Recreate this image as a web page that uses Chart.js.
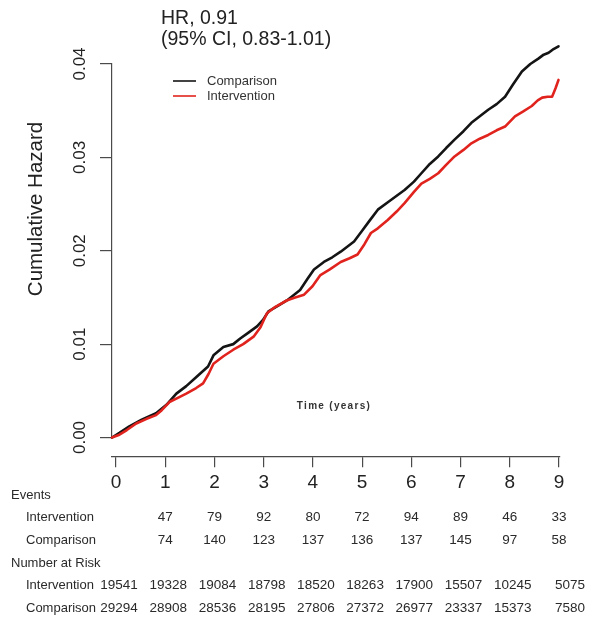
<!DOCTYPE html>
<html>
<head>
<meta charset="utf-8">
<script src="https://cdn.jsdelivr.net/npm/chart.js@4/dist/chart.umd.min.js"></script>
<style>
  html, body { margin: 0; padding: 0; background: #fff; }
  #c { display: block; }
</style>
</head>
<body>
<canvas id="c" width="595" height="617"></canvas>
<script>
// Cumulative hazard curves, follow-up in years
const compTime = [0, 0.15, 0.35, 0.6, 0.89, 1.1, 1.3, 1.5, 1.71, 1.94, 2.05, 2.25, 2.45, 2.59, 2.75, 2.93, 3.05, 3.16, 3.35, 3.54, 3.8, 3.95, 4.08, 4.28, 4.45, 4.62, 4.89, 5.06, 5.2, 5.37, 5.6, 5.91, 6.1, 6.25, 6.42, 6.59, 6.75, 6.92, 7.1, 7.26, 7.43, 7.6, 7.77, 7.94, 8.1, 8.28, 8.45, 8.62, 8.72, 8.82, 8.92, 9.02];
const compHazard = [0, 0.0005, 0.0012, 0.0019, 0.0026, 0.0035, 0.0047, 0.0055, 0.0065, 0.0076, 0.0088, 0.0097, 0.0100, 0.0106, 0.0112, 0.0119, 0.0126, 0.0135, 0.0141, 0.0147, 0.0158, 0.0170, 0.0180, 0.0188, 0.0193, 0.0199, 0.0210, 0.0222, 0.0232, 0.0244, 0.0253, 0.0265, 0.0274, 0.0283, 0.0293, 0.0301, 0.0310, 0.0319, 0.0328, 0.0337, 0.0344, 0.0351, 0.0357, 0.0365, 0.0378, 0.0392, 0.0400, 0.0406, 0.0410, 0.0412, 0.0416, 0.0419];

const intvTime = [0, 0.15, 0.3, 0.49, 0.7, 0.89, 1.0, 1.16, 1.35, 1.5, 1.7, 1.84, 1.95, 2.05, 2.25, 2.45, 2.65, 2.86, 3.0, 3.13, 3.3, 3.54, 3.7, 3.88, 4.05, 4.21, 4.4, 4.62, 4.8, 4.96, 5.1, 5.23, 5.37, 5.57, 5.75, 5.91, 6.1, 6.25, 6.42, 6.59, 6.75, 6.92, 7.1, 7.26, 7.43, 7.6, 7.77, 7.94, 8.14, 8.3, 8.48, 8.6, 8.69, 8.8, 8.89, 8.96, 9.02];
const intvHazard = [0, 0.0003, 0.0008, 0.0015, 0.0020, 0.0024, 0.0029, 0.0038, 0.0043, 0.0047, 0.0053, 0.0058, 0.0068, 0.0079, 0.0087, 0.0094, 0.0100, 0.0108, 0.0118, 0.0133, 0.0140, 0.0147, 0.0150, 0.0153, 0.0162, 0.0174, 0.0180, 0.0188, 0.0192, 0.0196, 0.0207, 0.0219, 0.0224, 0.0233, 0.0242, 0.0251, 0.0263, 0.0272, 0.0277, 0.0283, 0.0292, 0.0301, 0.0308, 0.0315, 0.0320, 0.0324, 0.0329, 0.0333, 0.0344, 0.0349, 0.0355, 0.0361, 0.0364, 0.0365, 0.0365, 0.0374, 0.0383];

const seriesNames = ['Comparison', 'Intervention'];
const seriesColors = ['#141414', '#e1231e'];

const yearTicks = [0, 1, 2, 3, 4, 5, 6, 7, 8, 9];
const hazardTicks = [0, 0.01, 0.02, 0.03, 0.04];

// Table under the time axis
const eventYears = [1, 2, 3, 4, 5, 6, 7, 8, 9];
const eventsIntervention = [47, 79, 92, 80, 72, 94, 89, 46, 33];
const eventsComparison = [74, 140, 123, 137, 136, 137, 145, 97, 58];
const riskYears = [0, 1, 2, 3, 4, 5, 6, 7, 8, 9];
const riskIntervention = [19541, 19328, 19084, 18798, 18520, 18263, 17900, 15507, 10245, 5075];
const riskComparison = [29294, 28908, 28536, 28195, 27806, 27372, 26977, 23337, 15373, 7580];

const headerLines = ['HR, 0.91', '(95% CI, 0.83-1.01)'];
const yTitle = 'Cumulative Hazard';
const timeTitle = 'Time (years)';

const FONT = '"Liberation Sans", Arial, Helvetica, sans-serif';
const AXIS_COLOR = '#4a4a4a';
const TEXT_COLOR = '#222';

const toPoints = (ts, hs) => ts.map((t, i) => ({ x: t, y: hs[i] }));

const extras = {
  id: 'extras',
  afterDraw(chart) {
    const ctx = chart.ctx;
    const xb = chart.scales.xb;
    ctx.save();

    // header
    ctx.fillStyle = TEXT_COLOR;
    ctx.font = '19.5px ' + FONT;
    ctx.textAlign = 'left';
    ctx.textBaseline = 'alphabetic';
    ctx.fillText(headerLines[0], 161, 24);
    ctx.fillText(headerLines[1], 161, 45);

    // vertical axis title
    ctx.save();
    ctx.translate(36, 209);
    ctx.rotate(-Math.PI / 2);
    ctx.font = '20.5px ' + FONT;
    ctx.textAlign = 'center';
    ctx.textBaseline = 'middle';
    ctx.fillText(yTitle, 0, 0);
    ctx.restore();

    // legend
    ctx.font = '13px ' + FONT;
    ctx.textBaseline = 'middle';
    chart.data.datasets.forEach((ds, i) => {
      const y = 81 + i * 15;
      ctx.strokeStyle = ds.borderColor;
      ctx.lineWidth = 1.6;
      ctx.beginPath();
      ctx.moveTo(173, y);
      ctx.lineTo(196, y);
      ctx.stroke();
      ctx.fillStyle = '#333';
      ctx.fillText(ds.label, 207, y + 0.5);
    });

    // time axis caption
    ctx.font = 'bold 10px ' + FONT;
    ctx.fillStyle = '#333';
    ctx.textAlign = 'center';
    if ('letterSpacing' in ctx) ctx.letterSpacing = '1.3px';
    ctx.fillText(timeTitle, 334, 406);
    if ('letterSpacing' in ctx) ctx.letterSpacing = '0px';

    // events / number at risk table
    ctx.font = '13px ' + FONT;
    ctx.fillStyle = '#2a2a2a';
    ctx.textAlign = 'left';
    ctx.fillText('Events', 11, 495);
    ctx.fillText('Intervention', 26, 517);
    ctx.fillText('Comparison', 26, 540);
    ctx.fillText('Number at Risk', 11, 563);
    ctx.fillText('Intervention', 26, 585);
    ctx.fillText('Comparison', 26, 608);

    ctx.font = '13.5px ' + FONT;
    ctx.textAlign = 'center';
    eventYears.forEach((t, i) => {
      const x = xb.getPixelForValue(t);
      ctx.fillText(String(eventsIntervention[i]), x, 517);
      ctx.fillText(String(eventsComparison[i]), x, 540);
    });
    riskYears.forEach((t, i) => {
      const x = xb.getPixelForValue(t) + 3 + (i === riskYears.length - 1 ? 8 : 0);
      ctx.fillText(String(riskIntervention[i]), x, 585);
      ctx.fillText(String(riskComparison[i]), x, 608);
    });

    ctx.restore();
  }
};

new Chart(document.getElementById('c'), {
  type: 'line',
  data: {
    datasets: [
      {
        label: seriesNames[0],
        data: toPoints(compTime, compHazard),
        borderColor: seriesColors[0],
        borderWidth: 2.6,
        order: 1
      },
      {
        label: seriesNames[1],
        data: toPoints(intvTime, intvHazard),
        borderColor: seriesColors[1],
        borderWidth: 2.6,
        order: 0
      }
    ]
  },
  options: {
    responsive: false,
    devicePixelRatio: 1,
    animation: false,
    elements: {
      point: { radius: 0 },
      line: { tension: 0, borderJoinStyle: 'round', borderCapStyle: 'round' }
    },
    datasets: { line: { clip: false, xAxisID: 'x', yAxisID: 'y' } },
    layout: { padding: { left: 0, top: 64, right: 35, bottom: 179.5 } },
    plugins: {
      legend: { display: false },
      tooltip: { enabled: false }
    },
    scales: {
      x: {
        type: 'linear',
        min: 0,
        max: 9.05,
        display: false
      },
      xb: {
        type: 'linear',
        axis: 'x',
        min: -0.081,
        max: 9.02,
        position: { y: -0.00209 },
        afterBuildTicks: (s) => { s.ticks = yearTicks.map(v => ({ value: v })); },
        grid: { drawOnChartArea: false, drawTicks: true, tickLength: 10, color: AXIS_COLOR, lineWidth: 1.2 },
        border: { display: true, color: AXIS_COLOR, width: 1.2 },
        ticks: {
          font: { family: FONT, size: 19 },
          color: TEXT_COLOR,
          padding: 4,
          maxRotation: 0,
          autoSkip: false,
          callback: (v) => String(v)
        }
      },
      y: {
        type: 'linear',
        position: 'left',
        min: 0,
        max: 0.04,
        afterBuildTicks: (s) => { s.ticks = hazardTicks.map(v => ({ value: v })); },
        afterFit: (s) => { s.width = 112; },
        grid: { drawOnChartArea: false, drawTicks: true, tickLength: 12, color: AXIS_COLOR, lineWidth: 1.2 },
        border: { display: true, color: AXIS_COLOR, width: 1.2 },
        ticks: {
          font: { family: FONT, size: 17 },
          color: TEXT_COLOR,
          minRotation: 90,
          maxRotation: 90,
          crossAlign: 'center',
          padding: 3,
          callback: (v) => Number(v).toFixed(2)
        },
        title: { display: false }
      }
    }
  },
  plugins: [extras]
});
</script>
</body>
</html>
